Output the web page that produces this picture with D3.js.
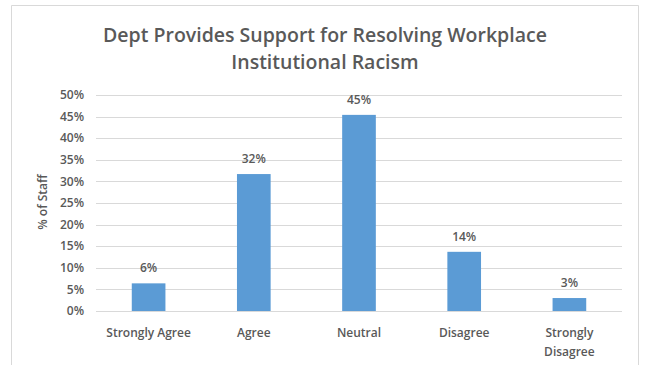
<!DOCTYPE html>
<html>
<head>
<meta charset="utf-8">
<script src="https://cdn.jsdelivr.net/npm/d3@7"></script>
<style>
  body { margin: 0; background: #fff; overflow: hidden; }
  svg { display: block; }
  svg text { font-family: "Open Sans", Lato, sans-serif; font-weight: 600; fill: #595959; }
</style>
</head>
<body>
<div id="chart"></div>
<script>
// Chart data
const categories = ['Strongly Agree', 'Agree', 'Neutral', 'Disagree', 'Strongly Disagree'];
const values = [6.4, 31.7, 45.4, 13.7, 3.0];
const valueLabels = ['6%', '32%', '45%', '14%', '3%'];
const yTicks = [0, 5, 10, 15, 20, 25, 30, 35, 40, 45, 50];
const titleLines = ['Dept Provides Support for Resolving Workplace', 'Institutional Racism'];
const yAxisTitle = '% of Staff';

const width = 647, height = 365;
const margin = { top: 95, right: 25, bottom: 54, left: 96 };
const innerWidth = width - margin.left - margin.right;
const innerHeight = height - margin.top - margin.bottom;

const svg = d3.select('#chart').append('svg')
    .attr('width', width)
    .attr('height', height);

// outer chart border (bottom edge falls outside the picture)
svg.append('path')
    .attr('d', `M11.5,${height} V5.5 H638.5 V${height}`)
    .attr('fill', 'none')
    .attr('stroke', '#d9d9d9')
    .attr('stroke-width', 1);

// Title
svg.append('text')
    .attr('x', 325)
    .attr('y', 42)
    .attr('text-anchor', 'middle')
    .attr('font-size', 19.5)
    .selectAll('tspan')
    .data(titleLines)
    .join('tspan')
    .attr('x', 325)
    .attr('dy', (d, i) => i === 0 ? 0 : 27)
    .text(d => d);

const g = svg.append('g')
    .attr('transform', `translate(${margin.left},${margin.top})`);

const x = d3.scaleBand()
    .domain(categories)
    .range([0, innerWidth])
    .paddingInner(0.68)
    .paddingOuter(0.34);

const y = d3.scaleLinear()
    .domain([0, 50])
    .range([innerHeight, 0]);

// Gridlines
g.append('g')
    .selectAll('line')
    .data(yTicks)
    .join('line')
    .attr('x1', 0)
    .attr('x2', innerWidth)
    .attr('y1', d => Math.round(y(d)) + 0.5)
    .attr('y2', d => Math.round(y(d)) + 0.5)
    .attr('stroke', '#d9d9d9')
    .attr('stroke-width', 1);

// Y tick labels
g.append('g')
    .selectAll('text')
    .data(yTicks)
    .join('text')
    .attr('x', -12)
    .attr('y', d => y(d))
    .attr('dy', '0.35em')
    .attr('text-anchor', 'end')
    .attr('font-size', 12)
    .text(d => d + '%');

// Y axis title
g.append('text')
    .attr('transform', 'rotate(-90)')
    .attr('x', -107)
    .attr('y', -49)
    .attr('text-anchor', 'middle')
    .attr('font-size', 12)
    .text(yAxisTitle);

// Bars
g.selectAll('.bar')
    .data(values)
    .join('rect')
    .attr('class', 'bar')
    .attr('x', (d, i) => x(categories[i]))
    .attr('width', x.bandwidth())
    .attr('y', d => y(d))
    .attr('height', d => innerHeight - y(d))
    .attr('fill', '#5b9bd5');

// Value labels
g.selectAll('.value-label')
    .data(values)
    .join('text')
    .attr('class', 'value-label')
    .attr('x', (d, i) => x(categories[i]) + x.bandwidth() / 2)
    .attr('y', d => y(d) - 11)
    .attr('text-anchor', 'middle')
    .attr('font-size', 12)
    .text((d, i) => valueLabels[i]);

// X category labels
const xLabels = g.append('g')
    .attr('transform', `translate(0,${innerHeight})`)
    .selectAll('text')
    .data(categories)
    .join('text')
    .attr('x', d => x(d) + x.bandwidth() / 2)
    .attr('y', 26)
    .attr('text-anchor', 'middle')
    .attr('font-size', 12);

xLabels.each(function(d) {
    const t = d3.select(this);
    const lines = d === 'Strongly Disagree' ? ['Strongly', 'Disagree'] : [d];
    lines.forEach((line, i) => {
        t.append('tspan')
            .attr('x', x(d) + x.bandwidth() / 2)
            .attr('dy', i === 0 ? 0 : 19)
            .text(line);
    });
});
</script>
</body>
</html>
